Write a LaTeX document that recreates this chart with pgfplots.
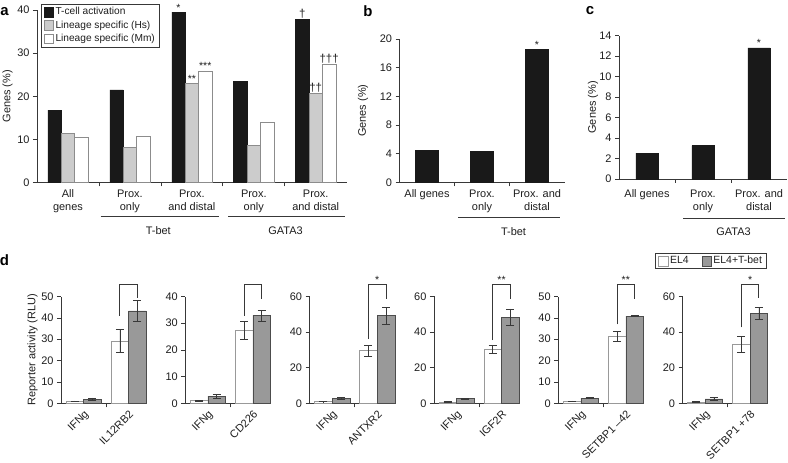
\documentclass[border=0pt]{standalone}
\usepackage{pgfplots}
\pgfplotsset{compat=1.18}
\usepackage{fontspec}
\setmainfont{Liberation Sans}
\definecolor{axc}{gray}{0.22}
\definecolor{txt}{gray}{0.12}
\definecolor{barblk}{gray}{0.1}
\definecolor{ltgray}{gray}{0.8}
\definecolor{edgegray}{gray}{0.55}
\definecolor{dgray}{gray}{0.6}
\definecolor{dedge}{gray}{0.3}
\pgfplotsset{
  base/.style={
    scale only axis, anchor=south west, clip=false,
    axis x line*=bottom, axis y line*=left,
    axis line style={-, axc, line width=0.7pt},
    tick align=outside, major tick length=4bp, minor tick length=4bp,
    tick style={axc, line width=0.7pt},
    major x tick style={draw=none},
    /pgf/number format/assume math mode=true,
    tick label style={font=\fontsize{11}{13}\selectfont, text=txt},
    label style={font=\fontsize{11}{13}\selectfont, text=txt},
    ymin=0,
  },
  sqlegend/.style={legend image code/.code={\draw[##1] (0bp,-4.8bp) rectangle (9.6bp,4.8bp);}},
  blk/.style={ybar, bar shift=0pt, fill=barblk, draw=barblk, line width=0.5pt, sqlegend},
  lgr/.style={ybar, bar shift=0pt, fill=ltgray, draw=edgegray, line width=0.6pt, sqlegend},
  wht/.style={ybar, bar shift=0pt, fill=white, draw=edgegray, line width=0.6pt, sqlegend},
  errs/.style={error bars/y dir=both, error bars/y explicit,
     error bars/error bar style={axc, line width=0.6pt},
     error bars/error mark options={rotate=90, mark size=4bp, axc, line width=0.6pt}},
  dwht/.style={ybar, bar shift=0pt, fill=white, draw=black!40, line width=0.6pt, sqlegend, errs},
  dgry/.style={ybar, bar shift=0pt, fill=dgray, draw=dedge, line width=0.6pt, sqlegend, errs},
  brk/.style={sharp plot, mark=none, draw=axc, line width=0.9pt, forget plot},
  dstyle/.style={
    width=85.5bp, height=106.8bp, xmin=0, xmax=85.5,
    xtick={22.6,67.6}, minor xtick={45}, bar width=17.6,
    xticklabel style={rotate=45, anchor=north east, inner sep=1.5bp},
  },
}
\tikzset{sig/.style={anchor=south, inner sep=0.8bp, font=\fontsize{10.5}{10.5}\selectfont, text=txt},
 dag/.style={anchor=south, inner sep=0.8bp, font=\fontsize{11.5}{11.5}\selectfont, text=txt},
 lab/.style={font=\bfseries\fontsize{15}{15}\selectfont, text=black},
 grp/.style={font=\fontsize{11}{13}\selectfont, text=txt}}
\begin{document}
\begin{tikzpicture}
\fill[white] (0,0) rectangle (788bp,463bp);
\useasboundingbox (0,0) rectangle (788bp,463bp);

% ---------- panel a ----------
\begin{axis}[base, at={(37bp,280.5bp)}, width=309.7bp, height=172.5bp,
  xmin=0, xmax=5, ymax=40, ytick={0,10,...,40}, bar width=0.216,
  xtick={0.5,1.5,2.5,3.5,4.5},
  xticklabels={{All\\genes},{Prox.\\only},{Prox.\\and distal},{Prox.\\only},{Prox.\\and distal}},
  minor xtick={1,2,3,4}, xticklabel style={align=center},
  ylabel={Genes (\%)}, ylabel style={at={(axis description cs:-0.0953,0.5)}, anchor=center},
  legend style={at={(axis description cs:0.012,1.0348)}, anchor=north west, draw=axc, line width=0.6pt,
     font=\fontsize{10.2}{11}\selectfont, text=txt, row sep=0.2bp, inner xsep=2.5bp, inner ysep=1.3bp,
     nodes={inner sep=1.8bp, text height=7.5bp, text depth=2.1bp}},
  legend cell align=left]
\addplot[blk] coordinates {(0.284,16.8) (1.284,21.5) (2.284,39.5) (3.284,23.4) (4.284,37.8)};
\addlegendentry{T-cell activation}
\addplot[lgr] coordinates {(0.5,11.3) (1.5,8.1) (2.5,23.0) (3.5,8.6) (4.5,20.6)};
\addlegendentry{Lineage specific (Hs)}
\addplot[wht] coordinates {(0.716,10.4) (1.716,10.8) (2.716,25.9) (3.716,14.0) (4.716,27.3)};
\addlegendentry{Lineage specific (Mm)}
\node[sig] at (axis cs:2.284,39.5) {*};
\node[sig] at (axis cs:2.5,23.0) {**};
\node[sig] at (axis cs:2.716,25.9) {***};
\node[dag] at (axis cs:4.284,37.8) {†};
\node[dag] at (axis cs:4.5,20.6) {††};
\node[dag] at (axis cs:4.716,27.3) {†††};
\end{axis}

% ---------- panel b ----------
\begin{axis}[base, at={(399.5bp,280.7bp)}, width=165bp, height=143.3bp,
  xmin=0, xmax=3, ymax=20, ytick={0,4,...,20}, bar width=0.41,
  xtick={0.5,1.5,2.5}, xticklabels={{All genes},{Prox.\\only},{Prox. and\\distal}},
  minor xtick={1,2}, xticklabel style={align=center},
  ylabel={Genes (\%)}, ylabel style={at={(axis description cs:-0.221,0.5)}, anchor=center}]
\addplot[blk] coordinates {(0.5,4.5) (1.5,4.3) (2.5,18.5)};
\node[sig] at (axis cs:2.5,18.5) {*};
\end{axis}

% ---------- panel c ----------
\begin{axis}[base, at={(619bp,284bp)}, width=168bp, height=143.3bp,
  xmin=0, xmax=3, ymax=14, ytick={0,2,...,14}, bar width=0.4,
  xtick={0.5,1.5,2.5}, xticklabels={{All genes},{Prox.\\only},{Prox. and\\distal}},
  minor xtick={1,2}, xticklabel style={align=center, yshift=-3bp},
  ylabel={Genes (\%)}, ylabel style={at={(axis description cs:-0.155,0.5)}, anchor=center}]
\addplot[blk] coordinates {(0.5,2.53) (1.5,3.27) (2.5,12.8)};
\node[sig] at (axis cs:2.5,12.8) {*};
\end{axis}

% ---------- panel d ----------
\begin{axis}[base, dstyle, at={(61bp,59.7bp)}, ymax=50, ytick={0,10,...,50},
  xticklabels={IFNg,IL12RB2},
  ylabel={Reporter activity (RLU)}, ylabel style={at={(axis description cs:-0.333,0.5)}, anchor=center}]
\addplot[dwht] coordinates {(13.8,1.0) +- (0,0.15) (58.8,29.2) +- (0,5.3)};
\addplot[dgry] coordinates {(31.4,2.0) +- (0,0.5) (76.4,43.3) +- (0,5.1)};
\addplot[brk] coordinates {(58.8,41) (58.8,55.6) (76.4,55.6) (76.4,49.5)};
\end{axis}

\begin{axis}[base, dstyle, at={(185.3bp,59.7bp)}, ymax=40, ytick={0,10,...,40},
  xticklabels={IFNg,CD226}]
\addplot[dwht] coordinates {(13.8,1.0) +- (0,0.15) (58.8,27.3) +- (0,3.4)};
\addplot[dgry] coordinates {(31.4,2.7) +- (0,0.7) (76.4,32.9) +- (0,2.0)};
\addplot[brk] coordinates {(58.8,32.8) (58.8,44.5) (76.4,44.5) (76.4,39)};
\end{axis}

\begin{axis}[base, dstyle, at={(309.6bp,59.7bp)}, ymax=60, ytick={0,20,40,60},
  xticklabels={IFNg,ANTXR2}]
\addplot[dwht] coordinates {(13.8,1.0) +- (0,0.15) (58.8,29.5) +- (0,3.1)};
\addplot[dgry] coordinates {(31.4,2.8) +- (0,0.4) (76.4,49.2) +- (0,4.6)};
\addplot[brk] coordinates {(58.8,36) (58.8,66.7) (76.4,66.7) (76.4,58.5)};
\node[sig] at (axis cs:67.6,66.7) {*};
\end{axis}

\begin{axis}[base, dstyle, at={(433.9bp,59.7bp)}, ymax=60, ytick={0,20,40,60},
  xticklabels={IFNg,IGF2R}]
\addplot[dwht] coordinates {(13.8,0.8) +- (0,0.15) (58.8,30.5) +- (0,2.3)};
\addplot[dgry] coordinates {(31.4,2.6) +- (0,0.3) (76.4,48.3) +- (0,4.7)};
\addplot[brk] coordinates {(58.8,35.5) (58.8,66.7) (76.4,66.7) (76.4,58.5)};
\node[sig] at (axis cs:67.6,66.7) {**};
\end{axis}

\begin{axis}[base, dstyle, at={(558.2bp,59.7bp)}, ymax=50, ytick={0,10,...,50},
  xticklabels={IFNg,SETBP1 –42}]
\addplot[dwht] coordinates {(13.8,1.0) +- (0,0.15) (58.8,31.3) +- (0,2.4)};
\addplot[dgry] coordinates {(31.4,2.4) +- (0,0.2) (76.4,40.8) +- (0,0.3)};
\addplot[brk] coordinates {(58.8,37) (58.8,55.6) (76.4,55.6) (76.4,49)};
\node[sig] at (axis cs:67.6,55.6) {**};
\end{axis}

\begin{axis}[base, dstyle, at={(682.5bp,59.7bp)}, ymax=60, ytick={0,20,40,60},
  xticklabels={IFNg,SETBP1 +78},
  legend columns=2,
  legend style={at={(axis description cs:0.333,1.332)}, anchor=center, draw=axc, line width=0.6pt,
     font=\fontsize{10.5}{11}\selectfont, text=txt, inner xsep=2.5bp, inner ysep=1.2bp,
     nodes={inner sep=1.7bp, text height=7.5bp, text depth=2bp},
     /tikz/every even column/.append style={column sep=11bp}}]
\addplot[dwht] coordinates {(13.8,0.8) +- (0,0.15) (58.8,33.2) +- (0,4.5)};
\addlegendentry{EL4}
\addplot[dgry] coordinates {(31.4,2.5) +- (0,0.6) (76.4,50.5) +- (0,3.4)};
\addlegendentry{EL4+T-bet}
\addplot[brk] coordinates {(58.8,42.7) (58.8,66.7) (76.4,66.7) (76.4,59)};
\node[sig] at (axis cs:67.6,66.7) {*};
\end{axis}

% ---------- group annotations ----------
\draw[axc, line width=0.8pt] (100.7bp,246.3bp) -- (219.3bp,246.3bp);
\draw[axc, line width=0.8pt] (228.3bp,246.3bp) -- (345bp,246.3bp);
\node[grp] at (158.3bp,232bp) {T-bet};
\node[grp] at (285.5bp,232bp) {GATA3};
\draw[axc, line width=0.8pt] (458bp,245.7bp) -- (560bp,245.7bp);
\node[grp] at (513.5bp,231.5bp) {T-bet};
\draw[axc, line width=0.8pt] (683bp,244.5bp) -- (785bp,244.5bp);
\node[grp] at (733.5bp,231.5bp) {GATA3};

% ---------- panel letters ----------
\node[lab] at (4.5bp,451.5bp) {a};
\node[lab] at (368bp,452bp) {b};
\node[lab] at (590bp,452bp) {c};
\node[lab] at (4.5bp,202.5bp) {d};
\end{tikzpicture}
\end{document}
